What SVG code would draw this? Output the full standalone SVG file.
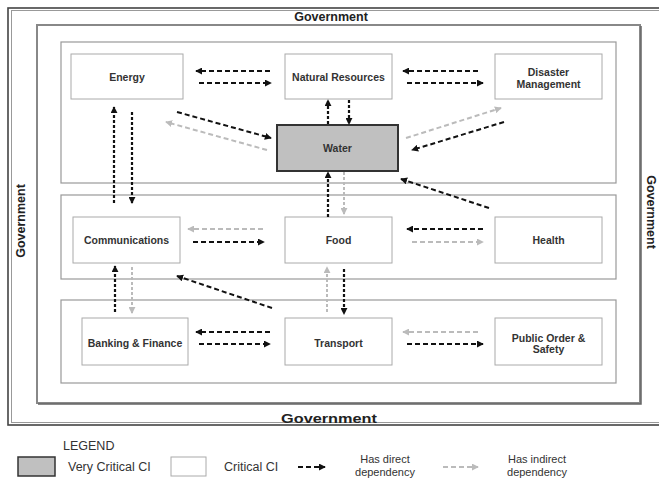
<svg xmlns="http://www.w3.org/2000/svg" width="659" height="480" viewBox="0 0 659 480">
<defs>
<marker id="hb" viewBox="0 0 8 8" refX="7" refY="4" markerWidth="7" markerHeight="7" markerUnits="userSpaceOnUse" orient="auto"><path d="M0,0 L8,4 L0,8 z" fill="#111"/></marker>
<marker id="hg" viewBox="0 0 8 8" refX="7" refY="4" markerWidth="7" markerHeight="7" markerUnits="userSpaceOnUse" orient="auto"><path d="M0,0 L8,4 L0,8 z" fill="#bbb"/></marker>
</defs>
<style>
.frame{fill:none;stroke:#888;stroke-width:2}
.band{fill:#fff;stroke:#999;stroke-width:1.2}
.node{fill:#fff;stroke:#aaa;stroke-width:1}
.crit{fill:#c0c0c0;stroke:#333;stroke-width:2}
.lbl{font-family:"Liberation Sans",Arial,sans-serif;font-weight:bold;font-size:10.5px;fill:#333;text-anchor:middle}
.gov{font-family:"Liberation Sans",Arial,sans-serif;font-weight:bold;font-size:12.5px;fill:#222;text-anchor:middle}
.leg{font-family:"Liberation Sans",Arial,sans-serif;font-size:12.5px;fill:#333}
.leg2{font-family:"Liberation Sans",Arial,sans-serif;font-size:11px;fill:#333;text-anchor:middle}
.d{fill:none;stroke:#111;stroke-width:2;stroke-dasharray:5,3;marker-end:url(#hb)}
.dv{fill:none;stroke:#111;stroke-width:2.2;stroke-dasharray:3,2;marker-end:url(#hb)}
.i{fill:none;stroke:#bbb;stroke-width:2;stroke-dasharray:5,3;marker-end:url(#hg)}
.iv{fill:none;stroke:#bbb;stroke-width:2;stroke-dasharray:3,2;marker-end:url(#hg)}
</style>
<rect width="659" height="480" fill="#fff"/>
<g id="frames">
<rect x="8" y="8" width="700" height="417" fill="none" stroke="#444" stroke-width="1.6"/>
<rect x="11.5" y="10.5" width="700" height="412" fill="none" stroke="#999" stroke-width="1"/>
<rect x="37" y="25" width="603" height="378" class="frame"/>
<polyline points="641,26 641,404 38,404" fill="none" stroke="#666" stroke-width="1.5"/>
<rect x="61" y="42" width="555" height="141" class="band"/>
<rect x="61" y="195" width="555" height="84" class="band"/>
<rect x="61" y="300" width="555" height="83" class="band"/>
<text class="gov" x="331" y="20.5">Government</text>
<text class="gov" x="329" y="422.5" font-size="13.5" textLength="96" lengthAdjust="spacingAndGlyphs">Government</text>
<text class="gov" transform="translate(25,221) rotate(-90)" font-size="11.5">Government</text>
<text class="gov" transform="translate(647,212) rotate(90)" font-size="11.5">Government</text>
</g>
<g id="energy"><rect x="71" y="54" width="112" height="45" class="node"/><text class="lbl" x="127" y="80.5">Energy</text></g>
<g id="natural-resources"><rect x="285" y="54" width="107" height="45" class="node"/><text class="lbl" x="338.5" y="80.5">Natural Resources</text></g>
<g id="disaster-management"><rect x="495" y="54" width="107" height="45" class="node"/><text class="lbl" x="548.5" y="75.5">Disaster</text><text class="lbl" x="548.5" y="87.5">Management</text></g>
<g id="water"><rect x="277" y="125" width="121" height="46" class="crit"/><text class="lbl" x="337.5" y="151.5">Water</text></g>
<g id="communications"><rect x="73" y="217" width="107" height="46" class="node"/><text class="lbl" x="126.5" y="243.5">Communications</text></g>
<g id="food"><rect x="285" y="217" width="107" height="46" class="node"/><text class="lbl" x="338.5" y="243.5">Food</text></g>
<g id="health"><rect x="495" y="217" width="107" height="46" class="node"/><text class="lbl" x="548.5" y="243.5">Health</text></g>
<g id="banking-finance"><rect x="82" y="318" width="106" height="47" class="node"/><text class="lbl" x="135" y="346.5">Banking &amp; Finance</text></g>
<g id="transport"><rect x="285" y="318" width="107" height="47" class="node"/><text class="lbl" x="338.5" y="346.5">Transport</text></g>
<g id="public-order-safety"><rect x="495" y="318" width="107" height="47" class="node"/><text class="lbl" x="548.5" y="341.5">Public Order &amp;</text><text class="lbl" x="548.5" y="352.5">Safety</text></g>
<g id="connectors">
<line class="d" x1="270" y1="71" x2="196" y2="71"/>
<line class="d" x1="199" y1="83" x2="271" y2="83"/>
<line class="d" x1="478" y1="71" x2="403" y2="71"/>
<line class="d" x1="407" y1="83" x2="483" y2="83"/>
<line class="dv" x1="114" y1="203" x2="114" y2="107"/>
<line class="dv" x1="132" y1="112" x2="132" y2="203"/>
<line class="d" x1="177" y1="112" x2="271" y2="138"/>
<line class="dv" x1="328" y1="124" x2="328" y2="100"/>
<line class="dv" x1="349" y1="100" x2="349" y2="124"/>
<line class="d" x1="504" y1="122" x2="412" y2="150"/>
<line class="d" x1="489" y1="208" x2="401" y2="179"/>
<line class="dv" x1="328" y1="217" x2="328" y2="172"/>
<line class="d" x1="193" y1="242" x2="264" y2="242"/>
<line class="d" x1="483" y1="229" x2="407" y2="229"/>
<line class="dv" x1="115" y1="312" x2="115" y2="266"/>
<line class="d" x1="272" y1="308" x2="177" y2="276"/>
<line class="dv" x1="344" y1="269" x2="344" y2="314"/>
<line class="d" x1="270" y1="332" x2="196" y2="332"/>
<line class="d" x1="199" y1="344" x2="270" y2="344"/>
<line class="d" x1="407" y1="344" x2="483" y2="344"/>
<line class="i" x1="267" y1="150" x2="166" y2="122"/>
<line class="i" x1="406" y1="138" x2="501" y2="108"/>
<line class="iv" x1="344" y1="172" x2="344" y2="214"/>
<line class="i" x1="263" y1="229" x2="188" y2="229"/>
<line class="i" x1="412" y1="242" x2="483" y2="242"/>
<line class="iv" x1="132" y1="267" x2="132" y2="313"/>
<line class="iv" x1="327" y1="312" x2="327" y2="267"/>
<line class="i" x1="478" y1="332" x2="403" y2="332"/>
</g>
<g id="legend">
<text class="leg" x="63" y="450" font-size="11.5">LEGEND</text>
<rect x="18" y="457" width="37" height="19" fill="#c0c0c0" stroke="#333" stroke-width="1.5"/>
<text class="leg" x="68" y="471">Very Critical CI</text>
<rect x="171" y="457" width="35" height="19" fill="#fff" stroke="#aaa" stroke-width="1"/>
<text class="leg" x="224" y="471">Critical CI</text>
<line class="d" x1="298" y1="467" x2="325" y2="467" stroke-dasharray="4,2.5"/>
<text class="leg2" x="385" y="463">Has direct</text>
<text class="leg2" x="385" y="476">dependency</text>
<line class="i" x1="443" y1="467" x2="478" y2="467" stroke-width="1.5" stroke-dasharray="4,2.5"/>
<text class="leg2" x="537" y="463">Has indirect</text>
<text class="leg2" x="537" y="476">dependency</text>
</g>
</svg>
